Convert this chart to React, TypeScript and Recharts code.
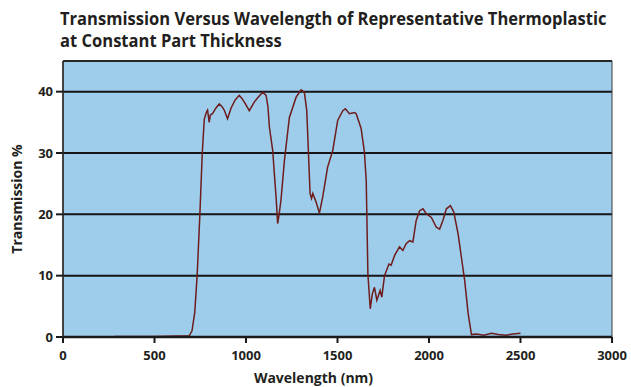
import { LineChart, Line, XAxis, YAxis, CartesianGrid, ReferenceArea } from 'recharts';

// wavelength (nm)
const wavelengths = [
  280, 500, 690, 705, 720, 733, 748, 761, 772, 783, 790, 799, 805, 817, 835, 854, 868, 881, 899, 918,
  940, 963, 978, 991, 1018, 1045, 1070, 1091, 1110, 1120, 1128, 1146, 1155, 1165, 1173, 1180, 1191,
  1210, 1237, 1274, 1301, 1319, 1332, 1343, 1350, 1358, 1365, 1383, 1401, 1419, 1446, 1474, 1501,
  1529, 1543, 1565, 1593, 1602, 1620, 1629, 1647, 1657, 1666, 1679, 1690, 1702, 1715, 1733, 1742,
  1757, 1781, 1793, 1812, 1839, 1857, 1875, 1894, 1912, 1930, 1949, 1967, 1985, 2013, 2040, 2058,
  2076, 2095, 2117, 2135, 2159, 2177, 2195, 2214, 2232, 2260, 2300, 2340, 2380, 2420, 2460, 2500,
];

// transmission % at each wavelength above
const transmission = [
  0.1, 0.1, 0.2, 1.0, 4.0, 10, 20, 30, 35.5, 36.6, 37.0, 35.0, 36.2, 36.4, 37.3, 38.0, 37.6, 37.0, 35.6, 37.3,
  38.6, 39.4, 38.9, 38.3, 36.9, 38.3, 39.2, 39.9, 39.4, 37.5, 34.2, 30.4, 26.6, 22.5, 18.5, 19.8, 22.3,
  28.8, 35.8, 39.1, 40.3, 39.9, 36.9, 28.8, 23.4, 22.6, 23.4, 22.0, 20.2, 22.8, 27.7, 30.4, 35.3,
  36.9, 37.2, 36.4, 36.6, 36.4, 34.8, 34.0, 30.2, 25.5, 10.3, 4.6, 7.0, 8.1, 6.0, 7.6, 6.5,
  10.0, 11.9, 11.7, 13.3, 14.7, 14.1, 15.2, 15.7, 15.5, 19.0, 20.6, 20.9, 20.1, 19.5, 17.9, 17.6,
  19.0, 20.9, 21.4, 20.4, 16.8, 13.0, 9.2, 3.8, 0.4, 0.5, 0.3, 0.6, 0.4, 0.3, 0.5, 0.6,
];

const xTicks = [0, 500, 1000, 1500, 2000, 2500, 3000];
const yTicks = [0, 10, 20, 30, 40];

const data = wavelengths.map((wl, i) => ({ wl, t: transmission[i] }));

const font = "'Open Sans', 'DejaVu Sans', sans-serif";
const tickStyle = { fill: '#231f20', fontSize: 13, fontWeight: 700, fontFamily: font };
const titleStyle = { fontFamily: font, fontWeight: 700, fontSize: 18, fill: '#231f20' };

export default function App() {
  return (
    <div style={{ position: 'absolute', left: 0, top: 0, width: 631, height: 387, background: '#fff', overflow: 'hidden' }}>
      <svg width={631} height={60} style={{ position: 'absolute', left: 0, top: 0 }}>
        {/* condensed look: squeeze the bold face horizontally */}
        <g transform="translate(60,0) scale(0.92,1)">
          <text x={0} y={25} style={titleStyle}>
            Transmission Versus Wavelength of Representative Thermoplastic
          </text>
          <text x={0} y={47} style={titleStyle}>
            at Constant Part Thickness
          </text>
        </g>
      </svg>
      <LineChart width={631} height={387} data={data} margin={{ top: 61, right: 19, left: 0, bottom: 0 }}>
        <CartesianGrid vertical={false} fill="#9ecdec" fillOpacity={1} stroke="#151515" strokeWidth={2} />
        <ReferenceArea x1={0} x2={3000} y1={0} y2={45} fill="none" stroke="#3a3a3a" strokeWidth={1} />
        <XAxis
          dataKey="wl"
          type="number"
          domain={[0, 3000]}
          ticks={xTicks}
          height={50}
          tickSize={6}
          tickMargin={8}
          tick={tickStyle}
          tickLine={{ stroke: '#1a1a1a', strokeWidth: 2 }}
          axisLine={{ stroke: '#1a1a1a', strokeWidth: 2.5 }}
          label={{ value: 'Wavelength (nm)', position: 'insideBottom', offset: 4, dx: -24, style: { fill: '#231f20', fontSize: 14, fontWeight: 700, fontFamily: font } }}
        />
        <YAxis
          type="number"
          domain={[0, 45]}
          ticks={yTicks}
          width={63}
          tickSize={7}
          tickMargin={3}
          tick={tickStyle}
          tickLine={{ stroke: '#1a1a1a', strokeWidth: 2 }}
          axisLine={{ stroke: '#2a2a2a', strokeWidth: 1.5 }}
          label={{ value: 'Transmission %', angle: -90, position: 'insideLeft', offset: 17, style: { textAnchor: 'middle', fill: '#231f20', fontSize: 14, fontWeight: 700, fontFamily: font } }}
        />
        <Line
          type="linear"
          dataKey="t"
          stroke="#6e1c1c"
          strokeWidth={1.5}
          dot={false}
          isAnimationActive={false}
        />
      </LineChart>
    </div>
  );
}
